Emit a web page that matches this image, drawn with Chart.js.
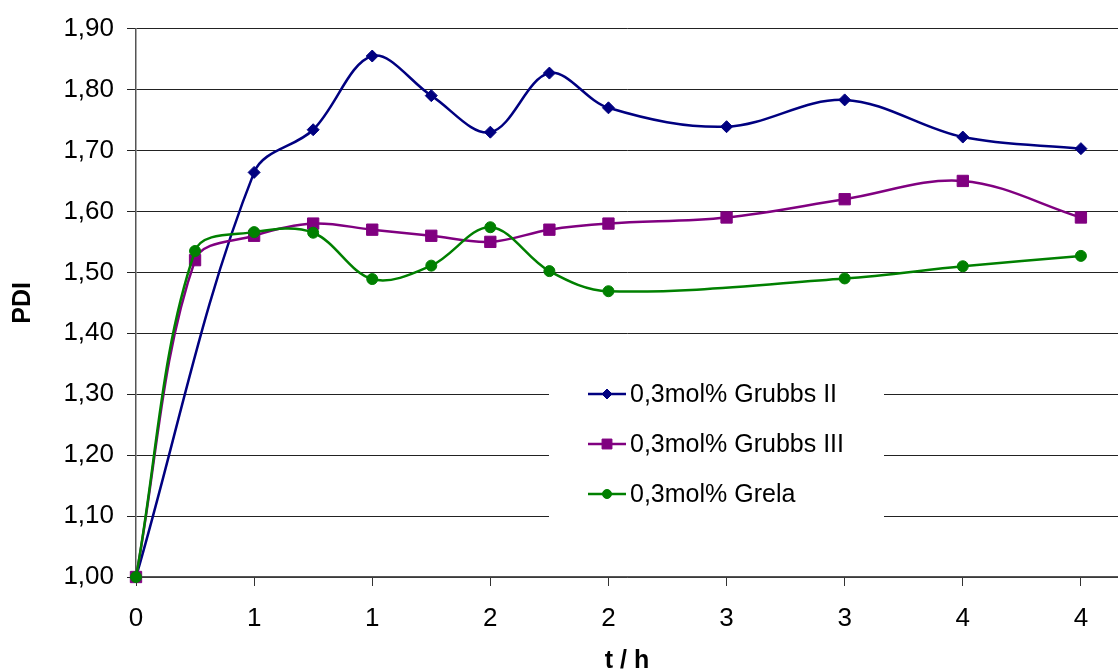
<!DOCTYPE html>
<html lang="de">
<head>
    <meta charset="UTF-8">
    <title>PDI</title>
    <style>
        html, body {
            margin: 0;
            padding: 0;
            background: #fff;
        }
        #wrap {
            width: 1118px;
            height: 670px;
            position: relative;
        }
    </style>
    <script src="https://cdn.jsdelivr.net/npm/chart.js"></script>
</head>
<body>
    <div id="wrap"><canvas id="pdiChart"></canvas></div>

    <script>
        // Zeit in h
        const times = [0, 0.25, 0.5, 0.75, 1, 1.25, 1.5, 1.75, 2, 2.5, 3, 3.5, 4];
        // PDI-Werte (null = kein Messpunkt)
        const grubbsII  = [1.00, null, 1.664, 1.734, 1.855, 1.790, 1.730, 1.827, 1.770, 1.739, 1.783, 1.722, 1.703];
        const grubbsIII = [1.00, 1.52, 1.56, 1.58, 1.57, 1.56, 1.55, 1.57, 1.58, 1.59, 1.62, 1.65, 1.59];
        const grela     = [1.00, 1.535, 1.566, 1.565, 1.489, 1.511, 1.574, 1.502, 1.469, null, 1.490, 1.510, 1.527];

        const seriesNames = ['0,3mol% Grubbs II', '0,3mol% Grubbs III', '0,3mol% Grela'];
        const xTickLabels = ['0', '1', '1', '2', '2', '3', '3', '4', '4'];

        const FONT = "'Liberation Sans', Arial, sans-serif";

        function toPoints(values) {
            const pts = [];
            values.forEach((v, i) => {
                if (v !== null) pts.push({ x: times[i], y: v });
            });
            return pts;
        }

        function makeSet(label, values, color, style, radius, order) {
            return {
                label: label,
                data: toPoints(values),
                borderColor: color,
                backgroundColor: color,
                borderWidth: 2.5,
                pointStyle: style,
                pointRadius: radius,
                pointHoverRadius: radius,
                pointBorderWidth: 1,
                tension: 0.35,
                fill: false,
                clip: false,
                order: order
            };
        }

        // Legende innerhalb der Zeichenfläche, mit weißem Hintergrund
        const innerLegend = {
            id: 'innerLegend',
            beforeDatasetsDraw(chart) {
                const ctx = chart.ctx;
                ctx.save();
                ctx.fillStyle = '#fff';
                ctx.fillRect(549, 350, 335, 185);
                chart.data.datasets.forEach((ds, i) => {
                    const y = 394 + i * 50;
                    ctx.strokeStyle = ds.borderColor;
                    ctx.fillStyle = ds.backgroundColor;
                    ctx.lineWidth = 2.5;
                    ctx.beginPath();
                    ctx.moveTo(588, y);
                    ctx.lineTo(626, y);
                    ctx.stroke();
                    ctx.lineWidth = 1;
                    Chart.helpers.drawPoint(ctx, {
                        pointStyle: ds.pointStyle,
                        radius: ds.pointRadius - 1,
                        rotation: 0,
                        borderWidth: 1
                    }, 607, y);
                    ctx.fillStyle = '#000';
                    ctx.font = '25px ' + FONT;
                    ctx.textBaseline = 'middle';
                    ctx.textAlign = 'left';
                    ctx.fillText(seriesNames[i], 630, y + 1);
                });
                ctx.restore();
            }
        };

        window.onload = function() {
            const ctx = document.getElementById('pdiChart').getContext('2d');

            new Chart(ctx, {
                type: 'line',
                data: {
                    datasets: [
                        makeSet(seriesNames[0], grubbsII, '#000080', 'rectRot', 6, 2),
                        makeSet(seriesNames[1], grubbsIII, '#800080', 'rect', 8, 1),
                        makeSet(seriesNames[2], grela, '#008000', 'circle', 5.5, 0)
                    ]
                },
                options: {
                    responsive: true,
                    maintainAspectRatio: false,
                    animation: false,
                    layout: {
                        autoPadding: false,
                        padding: { top: 25, right: 0, bottom: 0, left: 0 }
                    },
                    plugins: {
                        legend: { display: false },
                        tooltip: { enabled: false }
                    },
                    scales: {
                        x: {
                            type: 'linear',
                            min: 0,
                            max: 4.157,
                            afterFit(scale) {
                                scale.height = 93;
                                scale.paddingRight = 0;
                                scale.paddingLeft = 0;
                            },
                            border: { color: '#555', width: 1.5 },
                            grid: {
                                drawOnChartArea: false,
                                drawTicks: true,
                                tickLength: 9,
                                color: '#333'
                            },
                            ticks: {
                                stepSize: 0.5,
                                includeBounds: false,
                                autoSkip: false,
                                maxRotation: 0,
                                padding: 17,
                                color: '#000',
                                font: { family: FONT, size: 26 },
                                callback: (value, index) => xTickLabels[index]
                            },
                            title: {
                                display: true,
                                text: 't / h',
                                color: '#000',
                                font: { family: FONT, size: 25, weight: 'bold', lineHeight: 1 },
                                padding: { top: 0, bottom: -4 }
                            }
                        },
                        y: {
                            min: 1.0,
                            max: 1.9,
                            afterFit(scale) { scale.width = 136; },
                            border: { color: '#555', width: 1.5 },
                            grid: {
                                color: '#222',
                                lineWidth: 1,
                                drawTicks: true,
                                tickLength: 9
                            },
                            ticks: {
                                stepSize: 0.1,
                                padding: 13,
                                color: '#000',
                                font: { family: FONT, size: 26 },
                                callback: (value) => value.toFixed(2).replace('.', ',')
                            },
                            title: {
                                display: true,
                                text: 'PDI',
                                color: '#000',
                                font: { family: FONT, size: 25, weight: 'bold', lineHeight: 1 },
                                padding: { top: 11, bottom: 0 }
                            }
                        }
                    }
                },
                plugins: [innerLegend]
            });
        };
    </script>
</body>
</html>
